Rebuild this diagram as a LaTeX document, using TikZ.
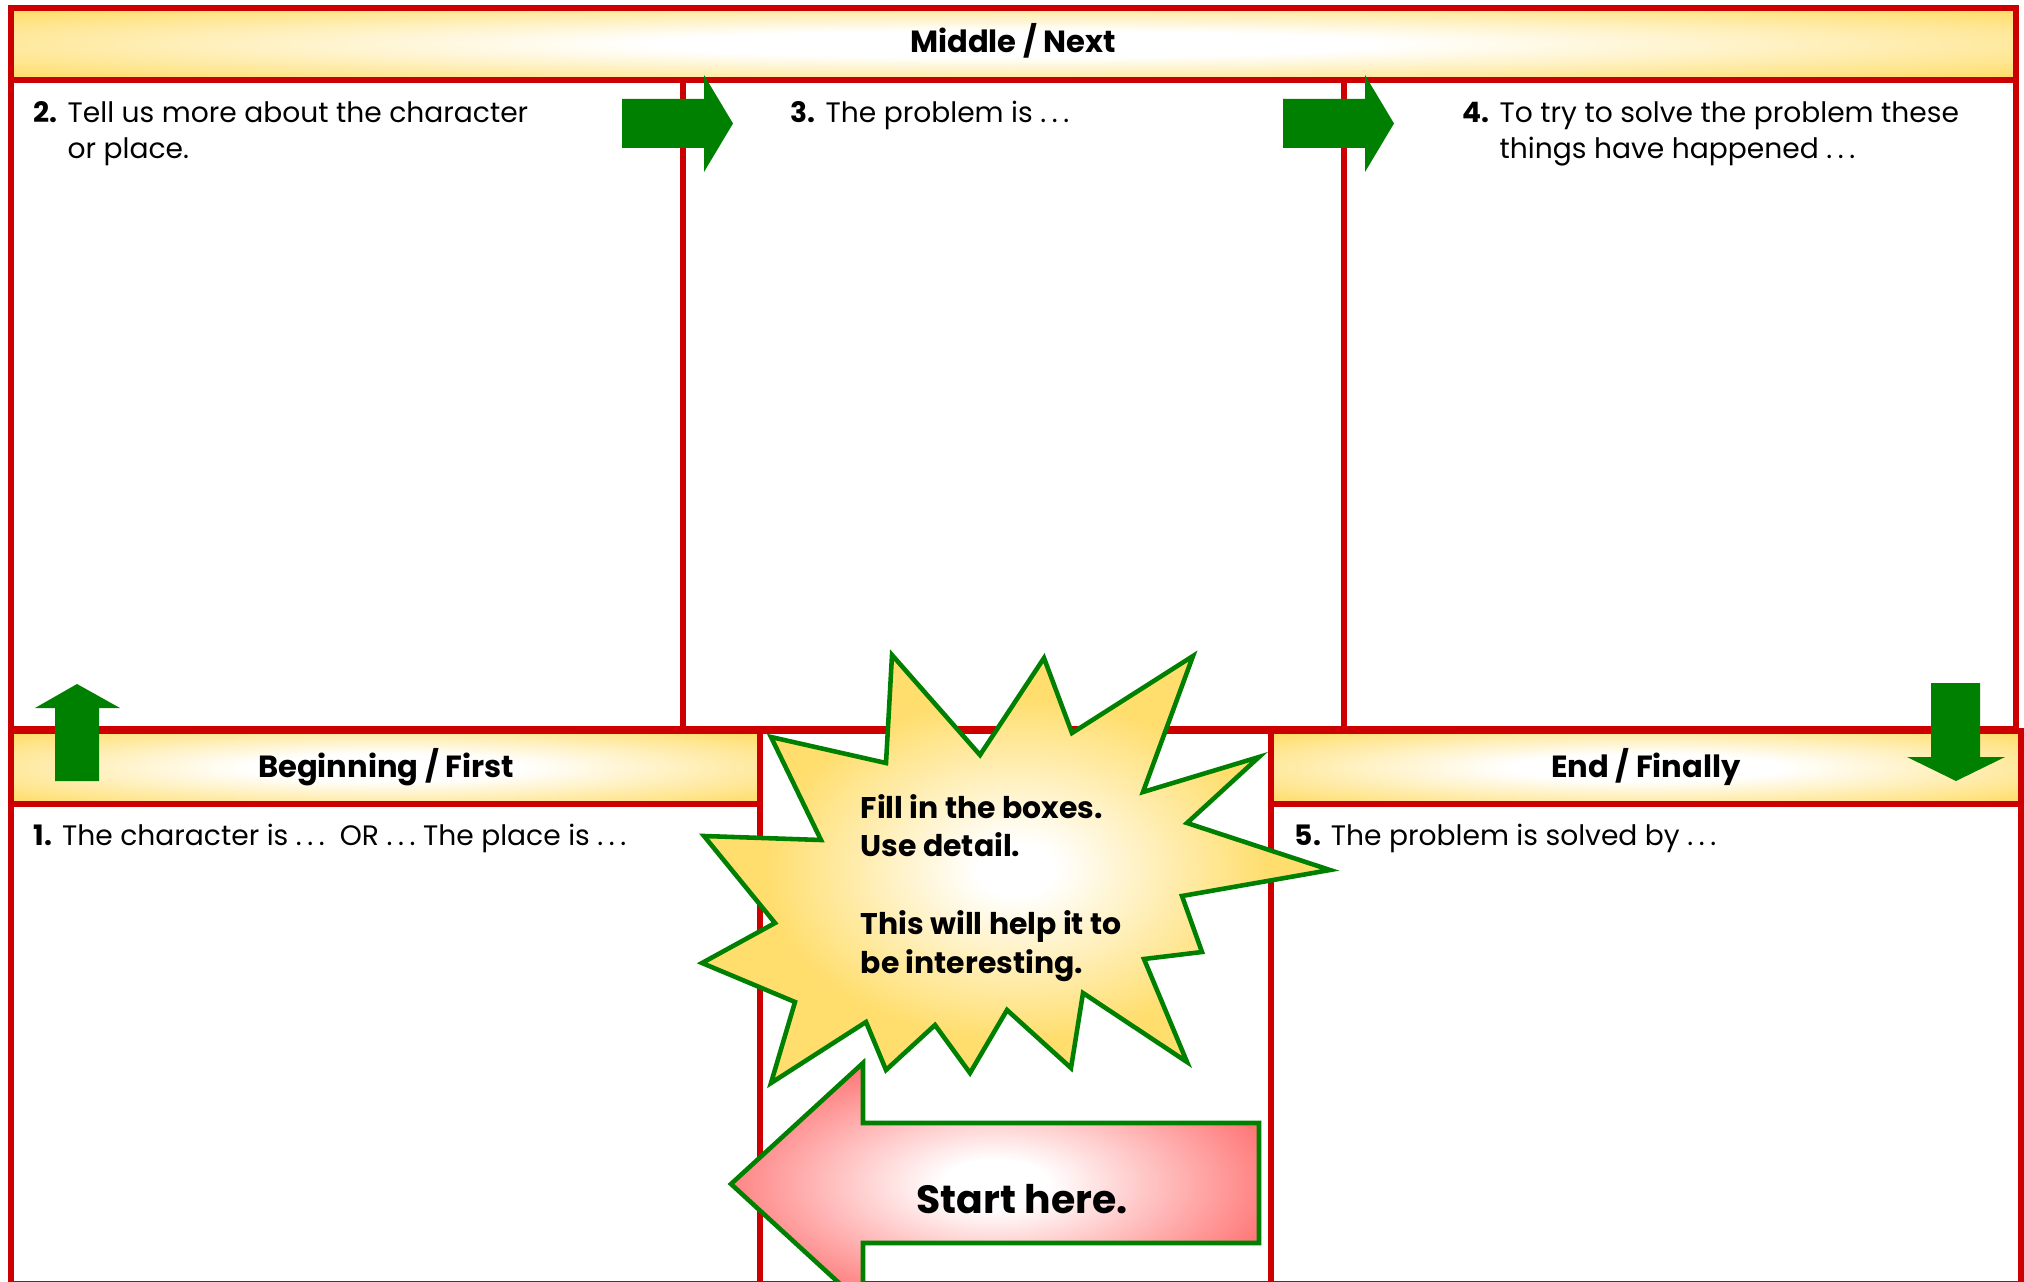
\documentclass[tikz,border=0pt]{standalone}
\usepackage{fontspec}
\setmainfont{Poppins}
\definecolor{sheetred}{RGB}{204,0,0}
\definecolor{leafgreen}{RGB}{0,128,0}
\definecolor{bandyellow}{RGB}{255,222,110}
\definecolor{startpink}{RGB}{255,120,120}
\pgfdeclareradialshading{bandglow}{\pgfpoint{0bp}{0bp}}{color(0bp)=(white); color(9bp)=(white); color(33bp)=(bandyellow); color(50bp)=(bandyellow)}
\pgfdeclareradialshading{burstglow}{\pgfpoint{0bp}{0bp}}{color(0bp)=(white); color(3bp)=(white); color(20bp)=(bandyellow); color(50bp)=(bandyellow)}
\pgfdeclareradialshading{pinkglow}{\pgfpoint{0bp}{0bp}}{color(0bp)=(white); color(5bp)=(white); color(27bp)=(startpink); color(50bp)=(startpink)}
\tikzstyle{frame}=[draw=sheetred, line width=1.7pt]
\tikzstyle{band}=[shading=bandglow]
\tikzstyle{hdr}=[anchor=base, inner sep=0pt, font=\fontsize{8.7}{10}\selectfont\bfseries]
\tikzstyle{body}=[anchor=base west, inner sep=0pt, font=\fontsize{8}{10.2}\selectfont]
\tikzstyle{blockarrow}=[fill=leafgreen]
\tikzstyle{burst}=[draw=leafgreen, line width=1.3pt, shading=burstglow]
\tikzstyle{startarrow}=[draw=leafgreen, line width=1.3pt, shading=pinkglow]
\newcommand{\ellip}{.\hspace{0.2em}.\hspace{0.2em}.}
\newcommand{\steptext}[2]{\textbf{#1.} \begin{tabular}[t]{@{}l@{}}#2\end{tabular}}
\newcommand{\rightblock}[1]
{
  \fill[blockarrow] (#1,99) -- ++(82,0) -- ++(0,-24) -- ++(29,48.5) -- ++(-29,48.5) -- ++(0,-24) -- ++(-82,0) -- cycle;
}

\begin{document}
\begin{tikzpicture}[x=0.01cm, y=-0.01cm]
	\clip (0,0) rectangle (2024,1282);
	\fill[white] (0,0) rectangle (2024,1282);

	% middle / next
	\path[band] (11,8) rectangle (2016,80);
	\draw[frame] (11,8) rectangle (2016,729);
	\draw[frame] (11,80) -- (2016,80);
	\draw[frame] (683,80) -- (683,729);
	\draw[frame] (1344,80) -- (1344,729);
	\node[hdr] (midhdr) at (1013,53) {Middle / Next};

	% beginning, middle gap, end
	\path[band] (11,731) rectangle (760,804);
	\path[band] (1271,731) rectangle (2021,804);
	\draw[frame] (11,731) rectangle (760,1284);
	\draw[frame] (760,731) rectangle (1271,1284);
	\draw[frame] (1271,731) rectangle (2021,1284);
	\draw[frame] (11,804) -- (760,804);
	\draw[frame] (1271,804) -- (2021,804);
	\node[hdr] (beghdr) at (386,777) {Beginning / First};
	\node[hdr] (endhdr) at (1646,777) {End / Finally};

	\node[body] (step1) at (33,845) {\steptext{1}{The character is \ellip\ \ OR \ellip\ The place is \ellip}};
	\node[body] (step2) at (33,123) {\steptext{2}{Tell us more about the character\\or place.}};
	\node[body] (step3) at (790,123) {\steptext{3}{The problem is \ellip}};
	\node[body] (step4) at (1462,123) {\steptext{4}{To try to solve the problem these\\things have happened \ellip}};
	\node[body] (step5) at (1294,845) {\steptext{5}{The problem is solved by \ellip}};

	% green arrows
	\rightblock{622}
	\rightblock{1283}
	\fill[blockarrow] (55,781) -- (55,708) -- (35,708) -- (77,684) -- (120,708) -- (99,708) -- (99,781) -- cycle;
	\fill[blockarrow] (1931,683) -- (1980,683) -- (1980,757) -- (2005,757) -- (1956,781) -- (1907,757) -- (1931,757) -- cycle;

	% burst
	\path[burst] (892,655) -- (980,755) -- (1044,658) -- (1072,733) -- (1193,656) -- (1143,792)
		-- (1259,757) -- (1187,823) -- (1330,870) -- (1182,896) -- (1202,952) -- (1144,959)
		-- (1187,1062) -- (1083,993) -- (1071,1068) -- (1007,1010) -- (970,1073) -- (935,1025)
		-- (886,1070) -- (866,1022) -- (771,1083) -- (795,1002) -- (702,963) -- (775,923)
		-- (704,836) -- (821,840) -- (771,737) -- (886,763) -- cycle;
	\node[anchor=base west, align=left, inner sep=0pt, font=\fontsize{8.5}{11}\selectfont\bfseries] (tip) at (860,973)
		{Fill in the boxes.\\Use detail.\\[11pt]This will help it to\\be interesting.};

	% start here
	\path[startarrow] (731,1184) -- (863,1063) -- (863,1123) -- (1259,1123) -- (1259,1243) -- (863,1243) -- (863,1305) -- cycle;
	\node[anchor=base, inner sep=0pt, font=\fontsize{11.2}{13}\selectfont\bfseries] (start) at (1022,1213) {Start here.};
\end{tikzpicture}
\end{document}
